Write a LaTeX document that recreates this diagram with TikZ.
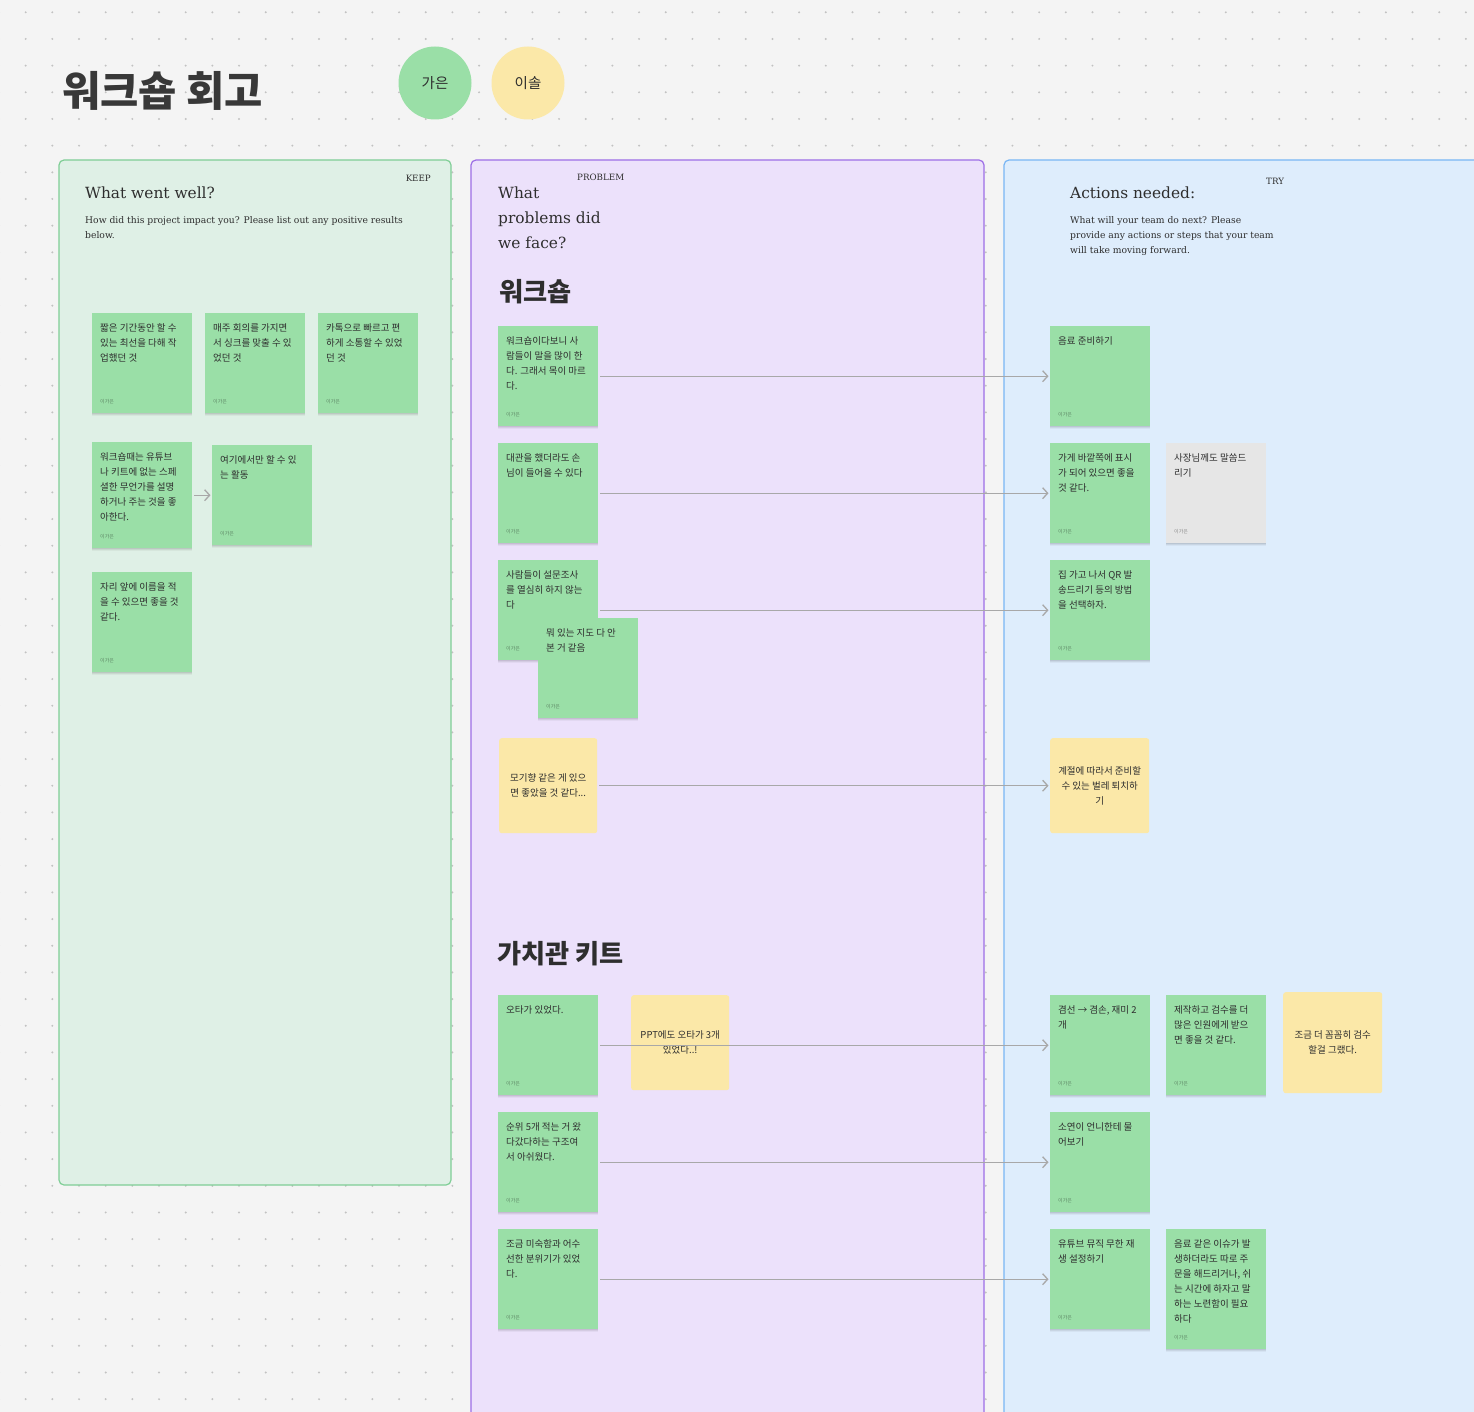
\documentclass[tikz,border=0pt]{standalone}
\usepackage{fontspec}
\setmainfont{DejaVu Serif}
\newfontfamily\kr{Noto Sans CJK KR}
\usetikzlibrary{arrows.meta,shadows}
\definecolor{bg}{HTML}{F4F4F4}
\definecolor{dotc}{HTML}{C2C2C2}
\definecolor{keepfill}{HTML}{DFF0E6}
\definecolor{keepline}{HTML}{7FCE96}
\definecolor{probfill}{HTML}{ECE1FB}
\definecolor{probline}{HTML}{9D6EE6}
\definecolor{tryfill}{HTML}{DEEDFC}
\definecolor{tryline}{HTML}{79B6F4}
\definecolor{ngreen}{HTML}{9ADFA7}
\definecolor{nyellow}{HTML}{FBE8A8}
\definecolor{ngray}{HTML}{E6E6E6}
\definecolor{ink}{HTML}{2E2E2E}
\definecolor{conncol}{HTML}{A8A8A8}
\tikzset{
  frame/.style={line width=1.2pt, rounded corners=5pt},
  notebox/.style={rectangle, minimum width=100pt, inner sep=0pt, anchor=north west, draw=none,
    drop shadow={shadow xshift=0pt, shadow yshift=-3.2pt, opacity=0.04, fill=black},
    drop shadow={shadow xshift=0pt, shadow yshift=-2pt, opacity=0.06, fill=black},
    drop shadow={shadow xshift=0pt, shadow yshift=-1pt, opacity=0.07, fill=black}},
  ybox/.style={rectangle, inner sep=0pt, anchor=north west, draw=none, fill=nyellow, rounded corners=2.5pt},
  notetext/.style={font=\kr\fontsize{9.5}{15}\selectfont, text=ink, align=left, inner sep=0pt, anchor=north west},
  ctext/.style={font=\kr\fontsize{9.5}{15}\selectfont, text=ink, align=center, inner sep=0pt},
  author/.style={font=\kr\fontsize{5}{5}\selectfont, text=black, text opacity=0.4, anchor=west, inner sep=0pt},
  connector/.style={draw=conncol, line width=1.3pt, -{Straight Barb[length=5pt,width=11pt]}, shorten <=2pt, shorten >=1.5pt},
  label8/.style={font=\fontsize{8.7}{10}\selectfont, text=ink, inner sep=0pt},
  head/.style={font=\fontsize{15.4}{25}\selectfont, text=ink, inner sep=0pt, align=left, anchor=north west},
  desc/.style={font=\fontsize{9.2}{15}\selectfont, text=ink, inner sep=0pt, align=left, anchor=north west},
  krhead/.style={font=\kr\bfseries\fontsize{26.2}{27}\selectfont, text=ink, inner sep=0pt, anchor=west},
  person/.style={circle, minimum size=73pt, inner sep=0pt, font=\kr\fontsize{14.5}{14.5}\selectfont, text=ink}
}
% sticky note: [height]{name}{x}{y}{fill}{text}
\newcommand\snote[6][100]{%
  \node[notebox, fill=#5, minimum height=#1pt] (#2) at (#3,#4) {};
  \node[notetext] (#2t) at ([xshift=8pt,yshift=-10pt]#2.north west) {#6};
  \node[author] (#2a) at ([xshift=8pt,yshift=12pt]#2.south west) {이가은};
}
% yellow note: {name}{x}{y}{w}{h}{text}
\newcommand\ynote[6]{%
  \node[ybox, minimum width=#4pt, minimum height=#5pt] (#1) at (#2,#3) {};
  \node[ctext] (#1t) at (#1.center) {#6};
}
\begin{document}
\begin{tikzpicture}[x=1pt,y=-1pt]
\clip (0,0) rectangle (1474,1412);
\fill[bg] (0,0) rectangle (1474,1412);
\foreach \i in {0,...,56}{
  \foreach \j in {0,...,53}{
    \fill[dotc] (-1+26.67*\i, 12.3+26.67*\j) circle (1.1pt);
  }
}
% title and people
\node[font=\kr\bfseries\fontsize{41.6}{42}\selectfont, text=ink!95, inner sep=0pt, anchor=west] (title) at (62,91) {워크숍 회고};
\node[person, fill=ngreen] (gaeun) at (435,83) {가은};
\node[person, fill=nyellow] (isol) at (528,83) {이솔};

% frames
\draw[frame, fill=keepfill, draw=keepline] (59,160) rectangle (451,1185);
\draw[frame, fill=probfill, draw=probline] (471,160) rectangle (984,1440);
\draw[frame, fill=tryfill, draw=tryline] (1004,160) rectangle (1500,1440);

% KEEP header
\node[label8, anchor=base east] (keep) at (431,182) {KEEP};
\node[head] (keephead) at (85,187) {What went well?};
\node[desc] (keepdesc) at (85,216) {How did this project impact you? Please list out any positive results\\below.};

% PROBLEM header
\node[label8, anchor=base west] (prob) at (577,181) {PROBLEM};
\node[head] (probhead) at (498,187) {What\\problems did\\we face?};
\node[krhead] (ws) at (499,292) {워크숍};
\node[krhead] (kit) at (497,954) {가치관 키트};

% TRY header
\node[label8, anchor=base west] (try) at (1266,185) {TRY};
\node[head] (tryhead) at (1070,187) {Actions needed:};
\node[desc] (trydesc) at (1070,216) {What will your team do next? Please\\provide any actions or steps that your team\\will take moving forward.};

% KEEP notes
\snote{k1}{92}{313}{ngreen}{짧은 기간동안 할 수\\있는 최선을 다해 작\\업했던 것}
\snote{k2}{205}{313}{ngreen}{매주 회의를 가지면\\서 싱크를 맞출 수 있\\었던 것}
\snote{k3}{318}{313}{ngreen}{카톡으로 빠르고 편\\하게 소통할 수 있었\\던 것}
\snote[106]{k4}{92}{442}{ngreen}{워크숍때는 유튜브\\나 키트에 없는 스페\\셜한 무언가를 설명\\하거나 주는 것을 좋\\아한다.}
\snote{k5}{212}{445}{ngreen}{여기에서만 할 수 있\\는 활동}
\snote{k6}{92}{572}{ngreen}{자리 앞에 이름을 적\\을 수 있으면 좋을 것\\같다.}

% PROBLEM notes
\snote{p1}{498}{326}{ngreen}{워크숍이다보니 사\\람들이 말을 많이 한\\다. 그래서 목이 마르\\다.}
\snote{p2}{498}{443}{ngreen}{대관을 했더라도 손\\님이 들어올 수 있다}
\snote{p3}{498}{560}{ngreen}{사람들이 설문조사\\를 열심히 하지 않는\\다}
\snote{p4}{538}{618}{ngreen}{뭐 있는 지도 다 안\\본 거 같음}
\ynote{p5}{499}{738}{98}{95}{모기향 같은 게 있으\\면 좋았을 것 같다...}
\snote{p6}{498}{995}{ngreen}{오타가 있었다.}
\ynote{p7}{631}{995}{98}{95}{PPT에도 오타가 3개\\있었다..!}
\snote{p8}{498}{1112}{ngreen}{순위 5개 적는 거 왔\\다갔다하는 구조여\\서 아쉬웠다.}
\snote{p9}{498}{1229}{ngreen}{조금 미숙함과 어수\\선한 분위기가 있었\\다.}

% TRY notes
\snote{t1}{1050}{326}{ngreen}{음료 준비하기}
\snote{t2}{1050}{443}{ngreen}{가게 바깥쪽에 표시\\가 되어 있으면 좋을\\것 같다.}
\snote{t2b}{1166}{443}{ngray}{사장님께도 말씀드\\리기}
\snote{t3}{1050}{560}{ngreen}{집 가고 나서 QR 발\\송드리기 등의 방법\\을 선택하자.}
\ynote{t4}{1050}{738}{99}{95}{계절에 따라서 준비할\\수 있는 벌레 퇴치하\\기}
\snote{t5}{1050}{995}{ngreen}{겸선 → 겸손, 재미 2\\개}
\snote{t6}{1166}{995}{ngreen}{제작하고 검수를 더\\많은 인원에게 받으\\면 좋을 것 같다.}
\ynote{t7}{1283}{992}{99}{101}{조금 더 꼼꼼히 검수\\할걸 그랬다.}
\snote{t8}{1050}{1112}{ngreen}{소연이 언니한테 물\\어보기}
\snote{t9}{1050}{1229}{ngreen}{유튜브 뮤직 무한 재\\생 설정하기}
\snote[120]{t10}{1166}{1229}{ngreen}{음료 같은 이슈가 발\\생하더라도 따로 주\\문을 해드리거나, 쉬\\는 시간에 하자고 말\\하는 노련함이 필요\\하다}

% connectors
\draw[connector] (k4.east) -- (k5.west);
\draw[connector] (p1.east) -- (t1.west);
\draw[connector] (p2.east) -- (t2.west);
\draw[connector] (p3.east) -- (t3.west);
\draw[connector] (p5.east) -- (t4.west);
\draw[connector] (p6.east) -- (t5.west);
\draw[connector] (p8.east) -- (t8.west);
\draw[connector] (p9.east) -- (t9.west);
\end{tikzpicture}
\end{document}
